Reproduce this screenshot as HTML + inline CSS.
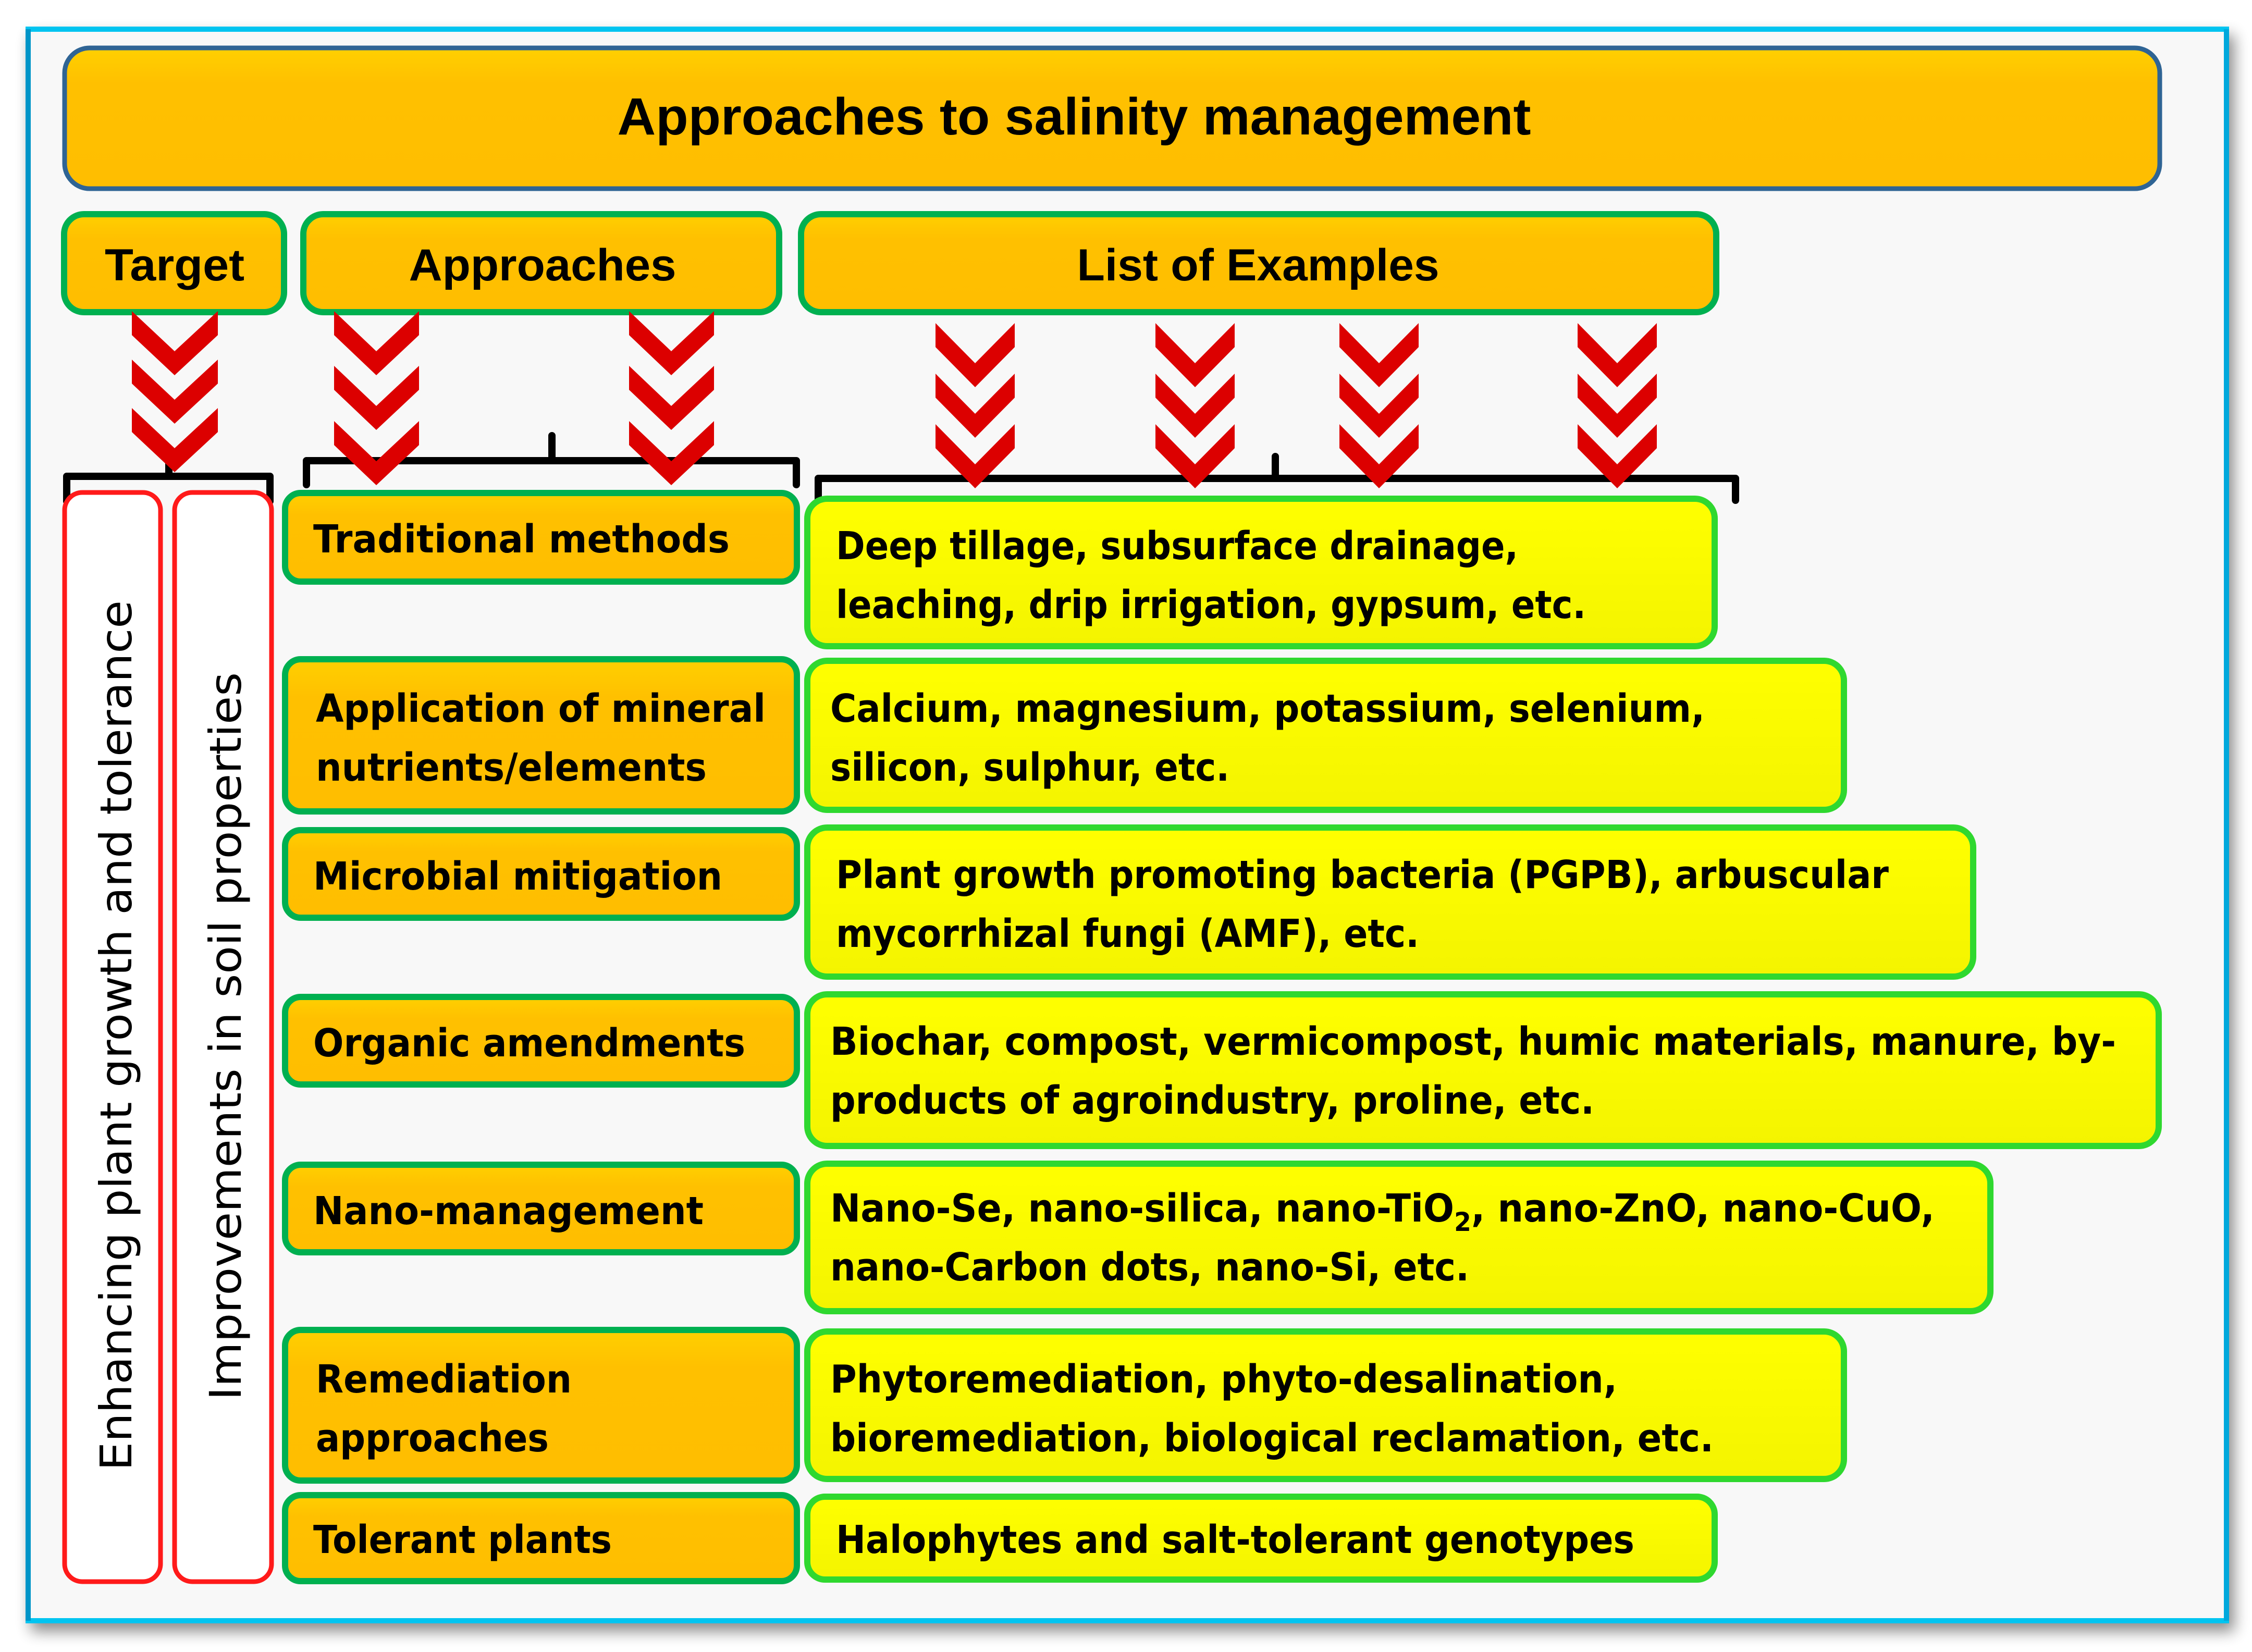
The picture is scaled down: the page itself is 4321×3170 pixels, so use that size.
<!DOCTYPE html>
<html><head><meta charset="utf-8"><style>
html,body{margin:0;padding:0;background:#fff}
svg{display:block}
.h{font-family:"Liberation Sans",sans-serif;font-weight:bold;fill:#000}
.b{font-family:"DejaVu Sans","Liberation Sans",sans-serif;font-weight:bold;fill:#000;font-size:74px}
.v{font-family:"DejaVu Sans","Liberation Sans",sans-serif;fill:#000;font-size:84px}
</style></head><body>
<svg width="4321" height="3170" viewBox="0 0 4321 3170" xmlns="http://www.w3.org/2000/svg">
<defs>
<linearGradient id="og" x1="0" y1="0" x2="0" y2="1"><stop offset="0" stop-color="#ffd000"/><stop offset="0.25" stop-color="#ffc000"/><stop offset="1" stop-color="#ffbe00"/></linearGradient>
<linearGradient id="yg" x1="0" y1="0" x2="0" y2="1"><stop offset="0" stop-color="#ffff00"/><stop offset="1" stop-color="#f4f400"/></linearGradient>
<filter id="sh" x="-5%" y="-5%" width="110%" height="110%"><feGaussianBlur in="SourceAlpha" stdDeviation="14"/><feOffset dx="10" dy="16"/><feComponentTransfer><feFuncA type="linear" slope="0.45"/></feComponentTransfer><feMerge><feMergeNode/><feMergeNode in="SourceGraphic"/></feMerge></filter>
</defs>
<rect x="54" y="56" width="4218" height="3054" fill="#f8f8f8" stroke="#00c4f0" stroke-width="10" filter="url(#sh)"/>
<line x1="54" y1="56" x2="54" y2="3110" stroke="#0095c8" stroke-width="10"/>
<line x1="4272" y1="56" x2="4272" y2="3110" stroke="#00a8dc" stroke-width="10"/>

<rect x="124" y="92" width="4020" height="270" rx="48" fill="url(#og)" stroke="#2f6494" stroke-width="9"/>
<text class="h" x="2061" y="258" font-size="100" text-anchor="middle" textLength="1753" lengthAdjust="spacingAndGlyphs">Approaches to salinity management</text>

<rect x="123" y="411" width="422" height="188" rx="38" fill="url(#og)" stroke="#00b050" stroke-width="12"/>
<text class="h" x="335" y="538" font-size="86" text-anchor="middle" textLength="268" lengthAdjust="spacingAndGlyphs">Target</text>
<rect x="582" y="411" width="913" height="188" rx="38" fill="url(#og)" stroke="#00b050" stroke-width="12"/>
<text class="h" x="1041" y="538" font-size="86" text-anchor="middle" textLength="513" lengthAdjust="spacingAndGlyphs">Approaches</text>
<rect x="1537" y="411" width="1756" height="188" rx="38" fill="url(#og)" stroke="#00b050" stroke-width="12"/>
<text class="h" x="2414" y="538" font-size="86" text-anchor="middle" textLength="695" lengthAdjust="spacingAndGlyphs">List of Examples</text>

<g fill="none" stroke="#000" stroke-width="14" stroke-linejoin="round" stroke-linecap="round">
<path d="M128 962 L128 914 L518 914 L518 962 M324 914 L324 870"/>
<path d="M588 930 L588 884 L1528 884 L1528 930 M1059 884 L1059 836"/>
<path d="M1570 960 L1570 918 L3330 918 L3330 960 M2447 918 L2447 876"/>
</g>

<g fill="#dc0000">
<polygon points="253,597 335,674 418,597 418,643 335,720 253,643"/>
<polygon points="253,690 335,767 418,690 418,736 335,813 253,736"/>
<polygon points="253,783 335,860 418,783 418,829 335,906 253,829"/>
<polygon points="641,597 722,674 804,597 804,643 722,720 641,643"/>
<polygon points="641,702 722,779 804,702 804,748 722,825 641,748"/>
<polygon points="641,808 722,885 804,808 804,854 722,931 641,854"/>
<polygon points="1207,597 1288,674 1370,597 1370,643 1288,720 1207,643"/>
<polygon points="1207,702 1288,779 1370,702 1370,748 1288,825 1207,748"/>
<polygon points="1207,808 1288,885 1370,808 1370,854 1288,931 1207,854"/>
<polygon points="1795,620 1871,697 1947,620 1947,666 1871,743 1795,666"/>
<polygon points="1795,717 1871,794 1947,717 1947,763 1871,840 1795,763"/>
<polygon points="1795,814 1871,891 1947,814 1947,860 1871,937 1795,860"/>
<polygon points="2217,620 2293,697 2369,620 2369,666 2293,743 2217,666"/>
<polygon points="2217,717 2293,794 2369,717 2369,763 2293,840 2217,763"/>
<polygon points="2217,814 2293,891 2369,814 2369,860 2293,937 2217,860"/>
<polygon points="2570,620 2646,697 2722,620 2722,666 2646,743 2570,666"/>
<polygon points="2570,717 2646,794 2722,717 2722,763 2646,840 2570,763"/>
<polygon points="2570,814 2646,891 2722,814 2722,860 2646,937 2570,860"/>
<polygon points="3027,620 3103,697 3179,620 3179,666 3103,743 3027,666"/>
<polygon points="3027,717 3103,794 3179,717 3179,763 3103,840 3027,763"/>
<polygon points="3027,814 3103,891 3179,814 3179,860 3103,937 3027,860"/>
</g>

<rect x="124" y="945" width="184" height="2090" rx="34" fill="#fff" stroke="#ff1a1a" stroke-width="9"/>
<rect x="335" y="945" width="186" height="2090" rx="34" fill="#fff" stroke="#ff1a1a" stroke-width="9"/>
<text class="v" transform="translate(252,2822) rotate(-90)" textLength="1670" lengthAdjust="spacingAndGlyphs">Enhancing plant growth and tolerance</text>
<text class="v" transform="translate(462,2687) rotate(-90)" textLength="1397" lengthAdjust="spacingAndGlyphs">Improvements in soil properties</text>

<g fill="url(#og)" stroke="#00b050" stroke-width="12">
<rect x="547" y="946" width="982" height="170" rx="30"/>
<rect x="547" y="1265" width="982" height="292" rx="30"/>
<rect x="547" y="1593" width="982" height="168" rx="30"/>
<rect x="547" y="1913" width="982" height="168" rx="30"/>
<rect x="547" y="2235" width="982" height="168" rx="30"/>
<rect x="547" y="2552" width="982" height="289" rx="30"/>
<rect x="547" y="2869" width="982" height="165" rx="30"/>
</g>
<g transform="translate(0,-7)">
<text class="b" x="601" y="1067" textLength="799" lengthAdjust="spacingAndGlyphs">Traditional  methods</text>
<text class="b" x="606" y="1392" textLength="863" lengthAdjust="spacingAndGlyphs">Application of mineral</text>
<text class="b" x="606" y="1505" textLength="750" lengthAdjust="spacingAndGlyphs">nutrients/elements</text>
<text class="b" x="601" y="1714" textLength="785" lengthAdjust="spacingAndGlyphs">Microbial mitigation</text>
<text class="b" x="601" y="2034" textLength="829" lengthAdjust="spacingAndGlyphs">Organic amendments</text>
<text class="b" x="601" y="2356" textLength="749" lengthAdjust="spacingAndGlyphs">Nano-management</text>
<text class="b" x="606" y="2679" textLength="491" lengthAdjust="spacingAndGlyphs">Remediation</text>
<text class="b" x="606" y="2792" textLength="447" lengthAdjust="spacingAndGlyphs">approaches</text>
<text class="b" x="601" y="2987" textLength="573" lengthAdjust="spacingAndGlyphs">Tolerant plants</text>
</g>

<g fill="url(#yg)" stroke="#2fd82f" stroke-width="12">
<rect x="1549" y="957" width="1741" height="283" rx="38"/>
<rect x="1549" y="1268" width="1989" height="286" rx="38"/>
<rect x="1549" y="1588" width="2237" height="286" rx="38"/>
<rect x="1549" y="1908" width="2593" height="291" rx="38"/>
<rect x="1549" y="2233" width="2270" height="283" rx="38"/>
<rect x="1549" y="2555" width="1989" height="283" rx="38"/>
<rect x="1549" y="2872" width="1741" height="159" rx="34"/>
</g>
<g transform="translate(0,-7)">
<text class="b" x="1604" y="1080" textLength="1309" lengthAdjust="spacingAndGlyphs">Deep tillage, subsurface drainage,</text>
<text class="b" x="1604" y="1193" textLength="1439" lengthAdjust="spacingAndGlyphs">leaching, drip irrigation, gypsum, etc.</text>
<text class="b" x="1593" y="1392" textLength="1678" lengthAdjust="spacingAndGlyphs">Calcium, magnesium, potassium, selenium,</text>
<text class="b" x="1593" y="1505" textLength="766" lengthAdjust="spacingAndGlyphs">silicon, sulphur, etc.</text>
<text class="b" x="1604" y="1711" textLength="2020" lengthAdjust="spacingAndGlyphs">Plant growth promoting bacteria (PGPB), arbuscular</text>
<text class="b" x="1604" y="1824" textLength="1119" lengthAdjust="spacingAndGlyphs">mycorrhizal fungi (AMF), etc.</text>
<text class="b" x="1593" y="2031" textLength="2467" lengthAdjust="spacingAndGlyphs">Biochar, compost, vermicompost, humic materials, manure, by-</text>
<text class="b" x="1593" y="2144" textLength="1466" lengthAdjust="spacingAndGlyphs">products of agroindustry, proline, etc.</text>
<text class="b" x="1593" y="2351" textLength="2119" lengthAdjust="spacingAndGlyphs">Nano-Se, nano-silica, nano-TiO<tspan font-size="50" dy="18">2</tspan><tspan dy="-18">, nano-ZnO, nano-CuO,</tspan></text>
<text class="b" x="1593" y="2464" textLength="1226" lengthAdjust="spacingAndGlyphs">nano-Carbon dots, nano-Si, etc.</text>
<text class="b" x="1593" y="2679" textLength="1510" lengthAdjust="spacingAndGlyphs">Phytoremediation, phyto-desalination,</text>
<text class="b" x="1593" y="2792" textLength="1695" lengthAdjust="spacingAndGlyphs">bioremediation, biological reclamation, etc.</text>
<text class="b" x="1604" y="2987" textLength="1532" lengthAdjust="spacingAndGlyphs">Halophytes and salt-tolerant genotypes</text>
</g>
</svg>
</body></html>
